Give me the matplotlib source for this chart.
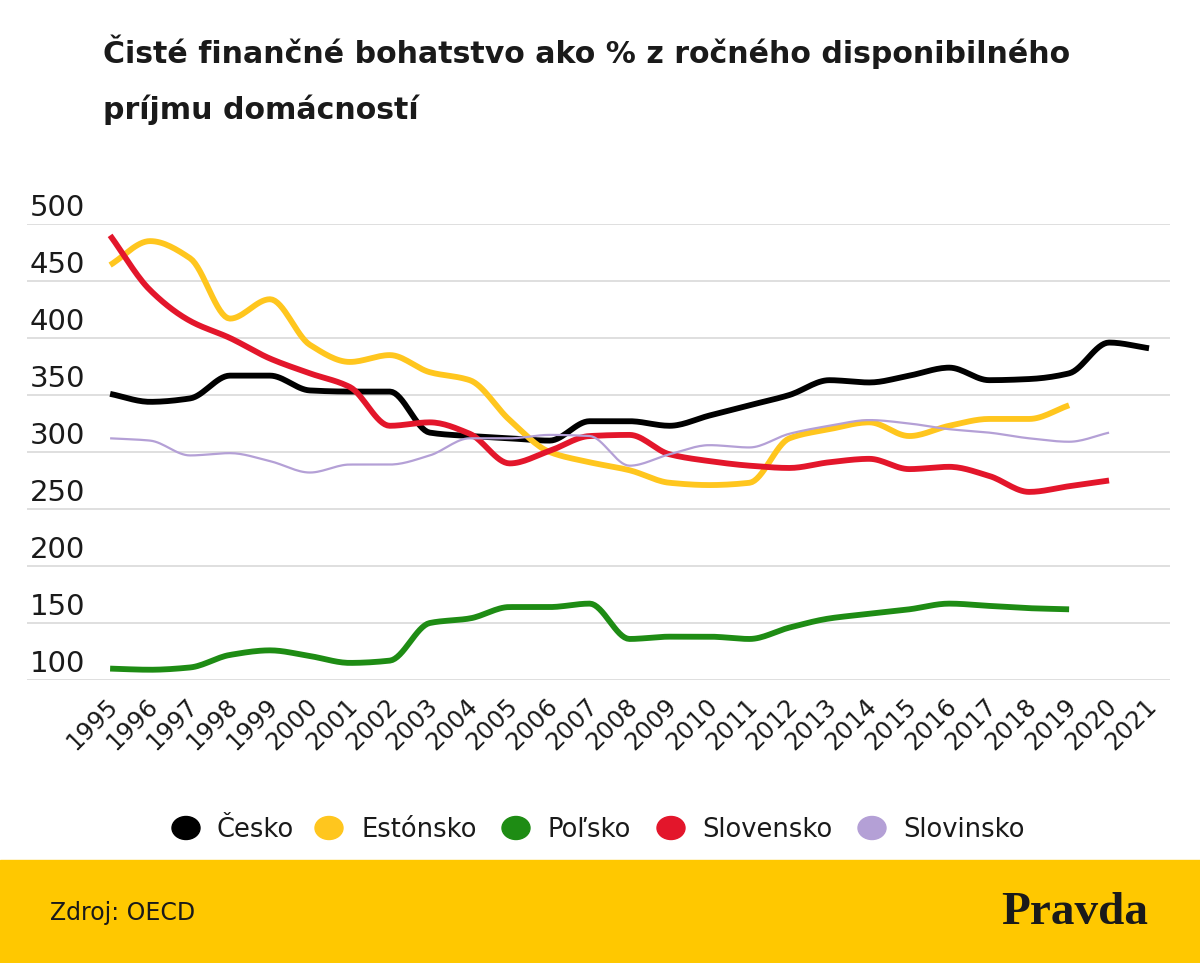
import numpy as np
import matplotlib
matplotlib.use("Agg")
import matplotlib.pyplot as plt
import matplotlib.transforms as mtrans
from matplotlib.patches import Rectangle, Ellipse

plt.rcParams['font.family'] = ['DejaVu Sans']

years = list(range(1995, 2022))

cesko = [351, 344, 347, 367, 367, 354, 353, 353, 317, 314, 312, 310, 327, 327,
         323, 332, 341, 350, 363, 361, 367, 374, 363, 364, 369, 396, 391]
estonsko = [464, 485, 470, 417, 434, 394, 379, 385, 370, 363, 328, 300, 291, 284,
            273, 271, 273, 312, 320, 326, 314, 323, 329, 329, 341]
polsko = [110, 109, 111, 122, 126, 121, 115, 117, 150, 154, 164, 164, 167, 136,
          138, 138, 136, 146, 154, 158, 162, 167, 165, 163, 162]
slovensko = [490, 442, 415, 400, 382, 369, 357, 323, 326, 316, 290, 301, 314, 315,
             298, 292, 288, 286, 291, 294, 285, 287, 279, 265, 270, 275]
slovinsko = [312, 310, 297, 299, 292, 282, 289, 289, 297, 312, 312, 315, 314, 288,
             298, 306, 304, 316, 323, 328, 325, 320, 317, 312, 309, 317]

names = ['Česko', 'Estónsko', 'Poľsko', 'Slovensko', 'Slovinsko']
colors = ['#000000', '#FFC61E', '#1E8C14', '#E3162B', '#B4A0D6']
widths = [4.2, 4.2, 4.2, 4.2, 1.6]
series = [cesko, estonsko, polsko, slovensko, slovinsko]
yticks = [100, 150, 200, 250, 300, 350, 400, 450, 500]


def monotone(x, y, n=16):
    # monotone cubic (Fritsch-Carlson) just for drawing smooth lines
    x = np.asarray(x, float)
    y = np.asarray(y, float)
    h = np.diff(x)
    d = np.diff(y) / h
    m = np.zeros_like(y)
    m[0], m[-1] = d[0], d[-1]
    for i in range(1, len(y) - 1):
        if d[i - 1] * d[i] > 0:
            m[i] = 2 / (1 / d[i - 1] + 1 / d[i])
    xs, ys = [], []
    for i in range(len(h)):
        t = np.linspace(0, 1, n, endpoint=(i == len(h) - 1))
        h00 = 2 * t**3 - 3 * t**2 + 1
        h10 = t**3 - 2 * t**2 + t
        h01 = -2 * t**3 + 3 * t**2
        h11 = t**3 - t**2
        xs.append(x[i] + t * h[i])
        ys.append(h00 * y[i] + h10 * h[i] * m[i] + h01 * y[i + 1] + h11 * h[i] * m[i + 1])
    return np.concatenate(xs), np.concatenate(ys)


W, H = 1200, 963
fig = plt.figure(figsize=(12, 9.63), dpi=100)
ax = fig.add_axes([27 / W, 1 - 680 / H, 1143 / W, 456 / H])

for vals, c, lw in zip(series, colors, widths):
    xs, ys = monotone(years[:len(vals)], vals)
    ax.plot(xs, ys, color=c, lw=lw, solid_capstyle='butt', clip_on=False)

ax.set_xlim(1992.92, 2021.525)
ax.set_ylim(100, 500)
ax.set_yticks(yticks)
ax.yaxis.grid(True, color='#dcdcdc', lw=1.3)
ax.set_axisbelow(True)
for s in ax.spines.values():
    s.set_visible(False)
ax.tick_params(axis='y', length=0, labelleft=False)
for v in yticks:
    ax.annotate(str(v), xy=(0, v), xycoords=('axes fraction', 'data'),
                xytext=(2, 6), textcoords='offset points',
                ha='left', va='baseline', fontsize=21, color='#1a1a1a')

ax.set_xticks(years)
ax.set_xticklabels([str(y) for y in years], rotation=45, ha='right',
                   va='center', rotation_mode='anchor', fontsize=17.5, color='#1a1a1a')
ax.tick_params(axis='x', length=0, pad=16)
shift = mtrans.ScaledTranslation(4 / 100, 0, fig.dpi_scale_trans)
for lab in ax.get_xticklabels():
    lab.set_transform(lab.get_transform() + shift)

fig.text(103 / W, 1 - 63 / H, 'Čisté finančné bohatstvo ako % z ročného disponibilného',
         fontsize=21.6, fontweight='bold', ha='left', va='baseline', color='#1a1a1a')
fig.text(103 / W, 1 - 119 / H, 'príjmu domácností',
         fontsize=21.6, fontweight='bold', ha='left', va='baseline', color='#1a1a1a')

# legend
dot_x = [186, 329, 516, 671, 872]
text_x = [216, 361, 547, 702, 903]
for name, c, dx, tx in zip(names, colors, dot_x, text_x):
    fig.patches.append(Ellipse((dx / W, 1 - 828 / H), 28 / W, 23 / H,
                               transform=fig.transFigure, color=c))
    fig.text(tx / W, 1 - 837 / H, name, fontsize=18.5, ha='left', va='baseline',
             color='#1a1a1a')

fig.patches.append(Rectangle((0, 0), 1, 103 / H, transform=fig.transFigure,
                             color='#FFC800', zorder=0))
fig.text(50 / W, 1 - 920 / H, 'Zdroj: OECD', fontsize=17, ha='left', va='baseline',
         color='#1a1a1a')
fig.text(1148 / W, 1 - 924 / H, 'Pravda', fontsize=34, fontweight='bold',
         family='Liberation Serif', ha='right', va='baseline', color='#1a1a1a')

fig.savefig('out.png', dpi=100)
